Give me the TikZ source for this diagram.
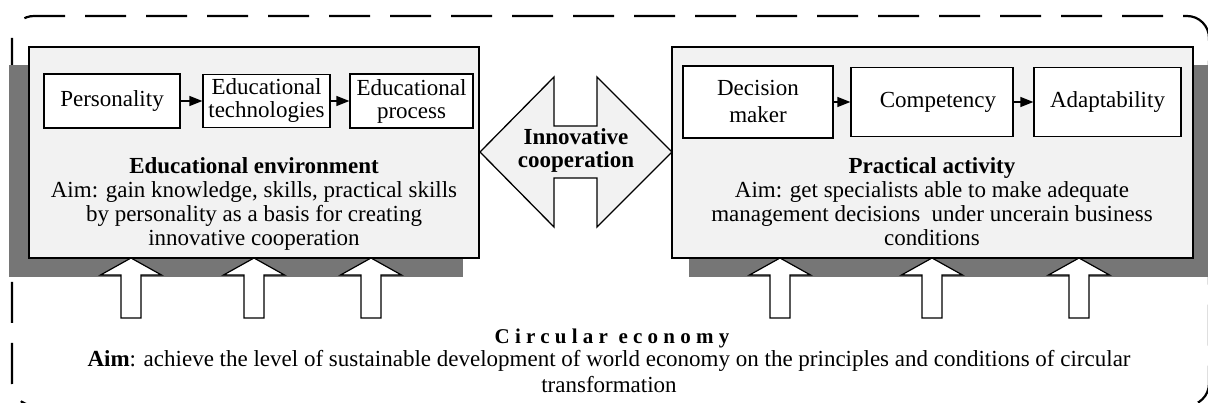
\documentclass[tikz,border=0pt]{standalone}
\usepackage{fontspec}
\setmainfont{Liberation Serif}
\usetikzlibrary{arrows.meta}

\definecolor{panel}{HTML}{F2F2F2}
\definecolor{shade}{HTML}{767676}

\tikzset{
  outerline/.style={line width=2.2pt, dash pattern=on 41pt off 20pt},
  shadowbox/.style={fill=shade, draw=none},
  panelbox/.style={draw=black, fill=panel, line width=1.5pt, inner sep=0pt},
  item/.style={draw=black, fill=white, line width=1.2pt, inner sep=0pt, align=center,
    font=\fontsize{23}{23}\selectfont},
  flow/.style={line width=1.2pt, -{Triangle[length=13pt,width=10pt]}},
  blockarrow/.style={draw=black, fill=white, line width=1.2pt},
  bodytext/.style={align=center, inner sep=0pt, font=\fontsize{23}{23.7}\selectfont},
}

\begin{document}
\begin{tikzpicture}[x=1pt, y=-1pt]
\useasboundingbox (0,0) rectangle (1208,403);

% dashed frame with rounded corners (top/right part and left/bottom part)
\draw[outerline, dash phase=41pt] (34,38) ++(192:22)
  arc[start angle=192, end angle=270, radius=22] -- (1187,16)
  arc[start angle=270, end angle=360, radius=22] -- (1209,383.5)
  arc[start angle=0, end angle=90, radius=22];
\draw[outerline] (12,38) -- (12,383.5)
  arc[start angle=180, end angle=90, radius=22] -- (1187,405.5);

% drop shadows of the two panels
\fill[shadowbox] (9,65) rectangle (463,277);
\fill[shadowbox] (689,65) rectangle (1215,277);

% the two panels
\node[panelbox, minimum width=450pt, minimum height=211pt] (envpanel) at (254,152.5) {};
\node[panelbox, minimum width=521pt, minimum height=211pt] (actpanel) at (932.5,152.5) {};

% steps of the educational environment
\node[item, minimum width=136pt, minimum height=54pt] (pers) at (112,101) {Personality};
\node[item, minimum width=127pt, minimum height=53pt] (tech) at (266.5,101) {Educational\\technologies};
\node[item, minimum width=123pt, minimum height=54pt] (proc) at (411.5,101) {Educational\\process};
\draw[flow] (pers) -- (tech);
\draw[flow] (tech) -- (proc);

% steps of the practical activity
\node[item, minimum width=150pt, minimum height=72pt, font=\fontsize{23}{27}\selectfont] (dm) at (758,102) {Decision\\maker};
\node[item, minimum width=162pt, minimum height=69pt] (comp) at (932,102) {\hspace{12pt}Competency};
\node[item, minimum width=147pt, minimum height=69pt] (adapt) at (1107.5,102) {Adaptability};
\draw[flow] (dm) -- (comp);
\draw[flow] (comp) -- (adapt);

% panel descriptions (base anchor sits on the last line)
\node[bodytext, anchor=base] (envtext) at (254,245.1)
  {\textbf{Educational environment}\\Aim: gain knowledge, skills, practical skills\\by personality as a basis for creating\\innovative cooperation};
\node[bodytext, anchor=base] (acttext) at (932,245.1)
  {\textbf{Practical activity}\\Aim: get specialists able to make adequate\\management decisions~ under uncerain business\\conditions};

% double-headed block arrow between the panels
\draw[fill=panel, line width=1.3pt] (480,152) -- (554,77) -- (554,126) -- (597,126) -- (597,77)
  -- (672,152) -- (597,227) -- (597,178) -- (554,178) -- (554,227) -- cycle;
\node[align=center, inner sep=0pt, anchor=base, font=\bfseries\fontsize{23}{22.5}\selectfont] (coop) at (576,167.5)
  {Innovative\\cooperation};

% upward block arrows feeding both panels
\foreach \cx in {131,254,371,780,932,1079}
  \draw[blockarrow] (\cx,258) -- ++(30.5,17) -- ++(-20.5,0) -- ++(0,43) -- ++(-20,0)
    -- ++(0,-43) -- ++(-20.5,0) -- cycle;

% circular economy caption
\node[anchor=base, inner sep=0pt, font=\bfseries\fontsize{21}{21}\selectfont\addfontfeature{LetterSpace=25}] (ce) at (612,344)
  {Circular economy};
\node[bodytext, anchor=base, font=\fontsize{23}{26}\selectfont] (aim) at (609,392)
  {\textbf{Aim}: achieve the level of sustainable development of world economy on the principles and conditions of circular\\transformation};
\end{tikzpicture}
\end{document}
